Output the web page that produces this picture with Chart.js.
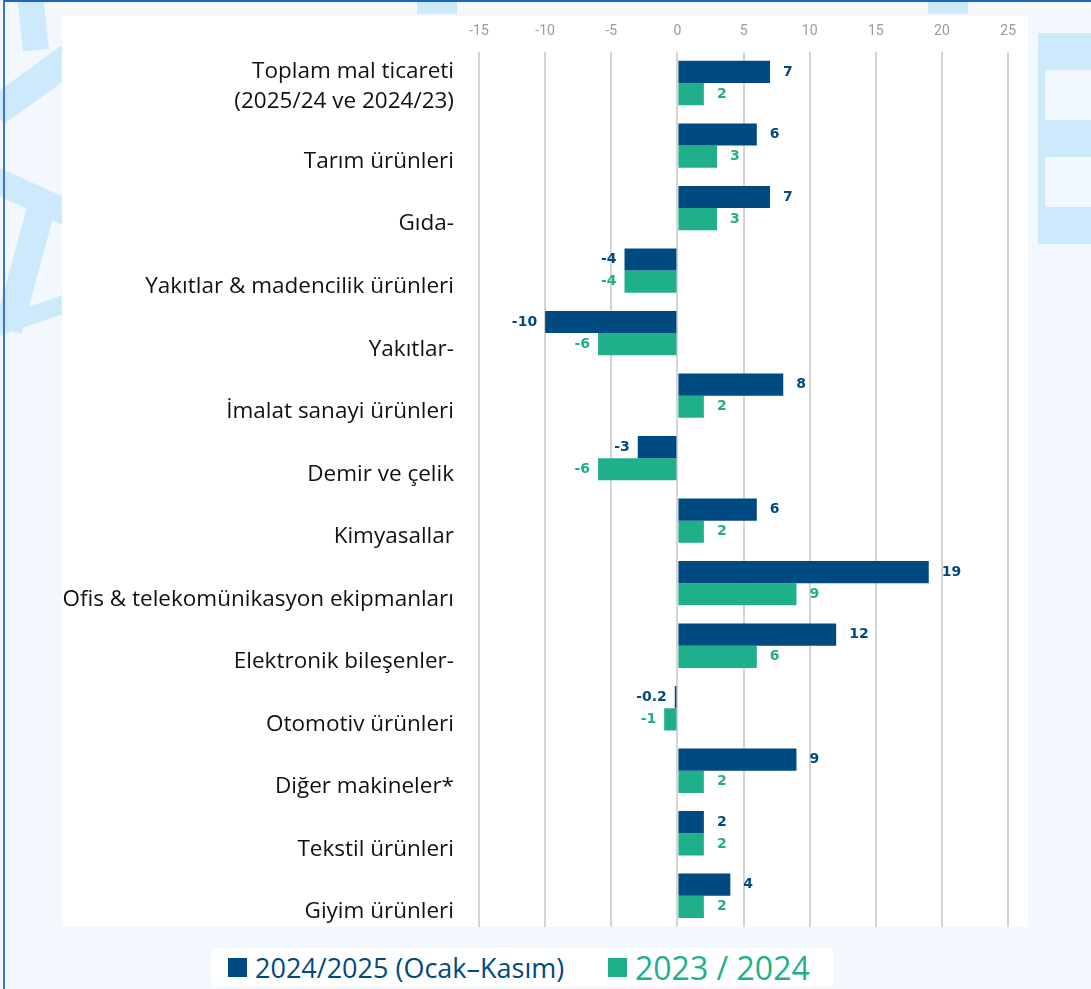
<!DOCTYPE html>
<html lang="tr">
<head>
<meta charset="utf-8">
<title>Mal ticareti değişimi</title>
<script src="https://cdn.jsdelivr.net/npm/chart.js@4.4.1/dist/chart.umd.min.js"></script>
<style>
    html, body {
        margin: 0;
        padding: 0;
    }
    body {
        width: 1091px;
        height: 989px;
        position: relative;
        overflow: hidden;
        background: #f3f8fe;
        font-family: "Open Sans", "Noto Sans", sans-serif;
    }
    .frame {
        position: absolute;
        left: 3px;
        top: 0;
        width: 1088px;
        height: 989px;
        border-left: 2px solid #3d72d0;
        border-top: 2px solid #1f64c4;
        box-sizing: border-box;
        pointer-events: none;
    }
    #deco {
        position: absolute;
        left: 0;
        top: 0;
    }
    .panel {
        position: absolute;
        left: 62px;
        top: 16px;
        width: 966px;
        height: 911px;
        background: #ffffff;
    }
    .plot {
        position: absolute;
        left: 0;
        top: -8px;
        width: 966px;
        height: 919px;
    }
    #legend {
        position: absolute;
        left: 211px;
        top: 948px;
        width: 622px;
        height: 39px;
        background: #ffffff;
    }
    .item {
        position: absolute;
        top: 0;
        height: 39px;
        line-height: 39px;
        white-space: nowrap;
    }
    .item i {
        position: absolute;
        top: 10px;
        left: 0;
        width: 19px;
        height: 19px;
    }
    .item span {
        position: absolute;
        left: 27px;
        top: 0;
    }
</style>
</head>
<body>

<!-- light snowflake pattern behind the panel -->
<svg id="deco" width="1091" height="989">
    <g stroke="#cde9fc" stroke-linecap="butt" fill="none">
        <line x1="30" y1="-5" x2="36" y2="50" stroke-width="26"/>
        <line x1="70" y1="58" x2="-5" y2="112" stroke-width="30"/>
        <line x1="-5" y1="180" x2="70" y2="214" stroke-width="26"/>
        <line x1="42" y1="205" x2="8" y2="330" stroke-width="28"/>
        <line x1="-5" y1="328" x2="70" y2="302" stroke-width="18"/>
    </g>
    <rect x="417" y="1" width="40" height="13" fill="#cde9fc"/>
    <rect x="928" y="1" width="40" height="13" fill="#cde9fc"/>
    <rect x="1038" y="33" width="53" height="211" fill="#cde9fc"/>
    <rect x="1045" y="70" width="50" height="50" rx="2" fill="#f1f7fe"/>
    <rect x="1045" y="157" width="50" height="50" rx="2" fill="#f1f7fe"/>
</svg>

<div class="panel">
    <div class="plot"><canvas id="tradeChart"></canvas></div>
</div>
<div id="legend"></div>
<div class="frame"></div>

<script>
// sector names, the first one is split over two lines
const categories = [
    ["Toplam mal ticareti", "(2025/24 ve 2024/23)"],
    "Tarım ürünleri",
    "Gıda-",
    "Yakıtlar & madencilik ürünleri",
    "Yakıtlar-",
    "İmalat sanayi ürünleri",
    "Demir ve çelik",
    "Kimyasallar",
    "Ofis & telekomünikasyon ekipmanları",
    "Elektronik bileşenler-",
    "Otomotiv ürünleri",
    "Diğer makineler*",
    "Tekstil ürünleri",
    "Giyim ürünleri"
];

const values2025 = [7, 6, 7, -4, -10, 8, -3, 6, 19, 12, -0.2, 9, 2, 4];
const values2024 = [2, 3, 3, -4, -6, 2, -6, 2, 9, 6, -1, 2, 2, 2];

const seriesNames = ["2024/2025 (Ocak–Kasım)", "2023 / 2024"];
const xTicks = [-15, -10, -5, 0, 5, 10, 15, 20, 25];

const DARK = "#004a82";
const GREEN = "#1faf8b";

// category names on the left, drawn a little below the band centre
const categoryLabels = {
    id: "categoryLabels",
    afterDraw(chart) {
        const ctx = chart.ctx;
        const yScale = chart.scales.y;
        const right = chart.chartArea.left - 25;
        ctx.save();
        ctx.font = "22.5px 'Open Sans', 'Noto Sans', sans-serif";
        ctx.fillStyle = "#111111";
        ctx.textAlign = "right";
        ctx.textBaseline = "middle";
        categories.forEach((label, i) => {
            const lines = Array.isArray(label) ? label : [label];
            const base = yScale.getPixelForValue(i) + 16 + (lines.length - 1) * 3;
            lines.forEach((line, j) => {
                ctx.fillText(line, right, base - (lines.length - 1 - j) * 30);
            });
        });
        ctx.restore();
    }
};

// value printed next to the end of each bar
const barValues = {
    id: "barValues",
    afterDatasetsDraw(chart) {
        const ctx = chart.ctx;
        ctx.save();
        ctx.font = "bold 14px 'DejaVu Sans', sans-serif";
        ctx.textBaseline = "middle";
        chart.data.datasets.forEach((ds, d) => {
            chart.getDatasetMeta(d).data.forEach((bar, i) => {
                const v = ds.data[i];
                ctx.fillStyle = ds.backgroundColor;
                if (v >= 0) {
                    ctx.textAlign = "left";
                    ctx.fillText(String(v), bar.x + 13, bar.y);
                } else {
                    ctx.textAlign = "right";
                    ctx.fillText(String(v), bar.x - 8, bar.y);
                }
            });
        });
        ctx.restore();
    }
};

const chart = new Chart(document.getElementById("tradeChart"), {
    type: "bar",
    data: {
        labels: categories,
        datasets: [
            {
                label: seriesNames[0],
                data: values2025,
                backgroundColor: DARK,
                categoryPercentage: 0.71,
                barPercentage: 1.0
            },
            {
                label: seriesNames[1],
                data: values2024,
                backgroundColor: GREEN,
                categoryPercentage: 0.71,
                barPercentage: 1.0
            }
        ]
    },
    options: {
        indexAxis: "y",
        responsive: true,
        maintainAspectRatio: false,
        animation: false,
        layout: {
            padding: { left: 409, right: 18, top: 3, bottom: 0 }
        },
        scales: {
            x: {
                position: "top",
                min: xTicks[0],
                max: xTicks[xTicks.length - 1],
                afterBuildTicks: (scale) => {
                    scale.ticks = xTicks.map(v => ({ value: v }));
                },
                ticks: {
                    color: "#9b9b9b",
                    font: { family: "Roboto", size: 14 },
                    padding: 12
                },
                grid: {
                    color: "#d4d4d4",
                    lineWidth: 2,
                    drawTicks: false
                },
                border: { display: false }
            },
            y: {
                ticks: { display: false },
                grid: { display: false },
                border: { display: false }
            }
        },
        plugins: {
            legend: { display: false },
            tooltip: { enabled: false }
        }
    },
    plugins: [categoryLabels, barValues]
});

// legend below the panel, built from the datasets
const legendBox = document.getElementById("legend");
const legendLayout = [
    { left: 17, size: 27 },
    { left: 397, size: 32 }
];
chart.data.datasets.forEach((ds, i) => {
    const item = document.createElement("div");
    item.className = "item";
    item.style.left = legendLayout[i].left + "px";
    item.innerHTML = '<i style="background:' + ds.backgroundColor + '"></i>' +
        '<span style="color:' + ds.backgroundColor + ';font-size:' + legendLayout[i].size + 'px">' +
        ds.label + '</span>';
    legendBox.appendChild(item);
});
</script>
</body>
</html>
